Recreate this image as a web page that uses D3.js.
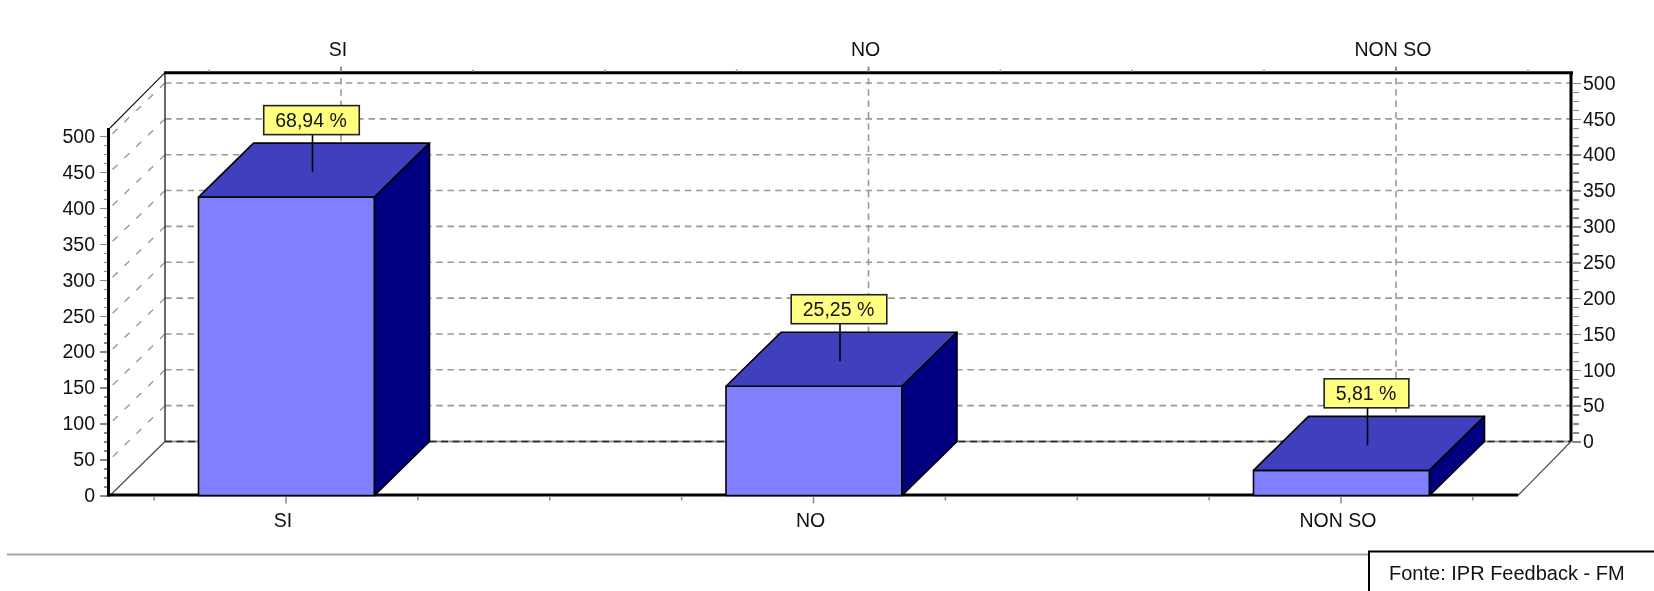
<!DOCTYPE html>
<html>
<head>
<meta charset="utf-8">
<style>
    html, body { margin: 0; padding: 0; background: #fff; overflow: hidden; }
    svg { filter: blur(0.45px); }
    text { font-family: "Liberation Sans", Arial, sans-serif; font-size: 19.5px; fill: #111; }
    .axis text { font-size: 19.5px; }
    .axis path, .axis line { shape-rendering: crispEdges; }
</style>
<script src="https://cdn.jsdelivr.net/npm/d3@7"></script>
</head>
<body>
<div id="dataviz"></div>
<script>
"use strict";

// Chart data
const categories = ["SI", "NO", "NON SO"];
const values = [415, 152, 35];
const percentLabels = ["68,94 %", "25,25 %", "5,81 %"];
const yTicks = [0, 50, 100, 150, 200, 250, 300, 350, 400, 450, 500];
const sourceLabel = "Fonte: IPR Feedback - FM";

function renderChart(){

    const WIDTH = 1654;
    const HEIGHT = 591;

    // Front plane and depth of the 3d box
    const FRONT_LEFT = 110;
    const FRONT_RIGHT = 1518;
    const FRONT_BOTTOM = 495.5;
    const FRONT_TOP = 136;
    const DEPTH_X = 55;
    const DEPTH_Y = 54;
    const BAR_WIDTH = 176;

    var svg = d3.select("#dataviz").append("svg")
        .attr("width", WIDTH)
        .attr("height", HEIGHT)
        .style("display", "block");

    // -----------------------------------------------------------------------
    // ------------------------------ Scales ---------------------------------
    // -----------------------------------------------------------------------
    var xScale = d3.scalePoint().domain(categories).range([286, 1341]);
    var yScale = d3.scaleLinear().domain([0, 500]).range([FRONT_BOTTOM, FRONT_TOP]);

    // same scale, pushed back to the rear wall
    var yBack = d3.scaleLinear().domain([0, 500]).range([441.5, 83]);

    var backLeft = FRONT_LEFT + DEPTH_X;
    var backRight = FRONT_RIGHT + DEPTH_X - 2;
    var backTop = 72.7;
    var backBottom = yBack(0);
    var frontTop = 128;

    // tick marks every quarter of a category step
    var quarter = xScale.step() / 4;
    var xMinor = d3.range(-1, 10).map(function(k){ return xScale(categories[0]) + k * quarter; });
    var yMinor = d3.range(0, 500.1, 12.5);

    // -----------------------------------------------------------------------
    // ------------------------------- Grid ----------------------------------
    // -----------------------------------------------------------------------
    var grid = svg.append("g")
        .attr("fill", "none")
        .attr("stroke", "#999")
        .attr("stroke-width", 1.6)
        .attr("stroke-dasharray", "6.5 4.8");

    grid.selectAll(".h-grid")
        .data(yTicks.filter(function(d){ return d > 0; }))
        .enter().append("line")
        .attr("class", "h-grid")
        .attr("x1", backLeft)
        .attr("x2", backRight)
        .attr("y1", function(d){ return yBack(d); })
        .attr("y2", function(d){ return yBack(d); });

    grid.selectAll(".side-grid")
        .data(yTicks.filter(function(d){ return d > 0; }))
        .enter().append("line")
        .attr("class", "side-grid")
        .attr("x1", backLeft)
        .attr("x2", FRONT_LEFT)
        .attr("y1", function(d){ return yBack(d); })
        .attr("y2", function(d){ return yScale(d); })
        .attr("stroke-width", 1.4)
        .attr("stroke-dasharray", "7 9.5");

    grid.selectAll(".v-grid")
        .data(categories)
        .enter().append("line")
        .attr("class", "v-grid")
        .attr("x1", function(d){ return xScale(d) + DEPTH_X; })
        .attr("x2", function(d){ return xScale(d) + DEPTH_X; })
        .attr("y1", backTop - 6)
        .attr("y2", backBottom);

    // Rear floor line, dark dashes on top of gray
    svg.append("line")
        .attr("x1", backLeft).attr("x2", backRight)
        .attr("y1", backBottom).attr("y2", backBottom)
        .attr("stroke", "#999").attr("stroke-width", 2);
    svg.append("line")
        .attr("x1", backLeft).attr("x2", backRight)
        .attr("y1", backBottom).attr("y2", backBottom)
        .attr("stroke", "#222").attr("stroke-width", 1.6)
        .attr("stroke-dasharray", "7 4.5");

    // -----------------------------------------------------------------------
    // ------------------------------- Frame ---------------------------------
    // -----------------------------------------------------------------------
    var frame = svg.append("g").attr("fill", "none").attr("stroke", "#111");

    frame.append("line")
        .attr("x1", backLeft).attr("x2", backLeft)
        .attr("y1", backTop).attr("y2", backBottom)
        .attr("stroke", "#444").attr("stroke-width", 1.6);
    frame.append("line")
        .attr("x1", FRONT_LEFT).attr("x2", backLeft)
        .attr("y1", frontTop).attr("y2", backTop)
        .attr("stroke-width", 1.1);
    frame.append("line")
        .attr("x1", FRONT_LEFT).attr("x2", backLeft)
        .attr("y1", FRONT_BOTTOM).attr("y2", backBottom)
        .attr("stroke", "#444").attr("stroke-width", 1.1);
    frame.append("line")
        .attr("x1", FRONT_RIGHT).attr("x2", backRight)
        .attr("y1", FRONT_BOTTOM).attr("y2", backBottom)
        .attr("stroke", "#444").attr("stroke-width", 1.1);
    frame.append("line")
        .attr("x1", backLeft - 1).attr("x2", backRight + 2)
        .attr("y1", backTop).attr("y2", backTop)
        .attr("stroke", "#000").attr("stroke-width", 3);
    frame.append("line")
        .attr("x1", FRONT_LEFT - 1.5).attr("x2", FRONT_LEFT - 1.5)
        .attr("y1", frontTop).attr("y2", FRONT_BOTTOM + 1)
        .attr("stroke", "#000").attr("stroke-width", 3);
    frame.append("line")
        .attr("x1", backRight).attr("x2", backRight)
        .attr("y1", backTop).attr("y2", backBottom)
        .attr("stroke", "#000").attr("stroke-width", 3);
    frame.append("line")
        .attr("x1", FRONT_LEFT - 3).attr("x2", FRONT_RIGHT)
        .attr("y1", FRONT_BOTTOM - 0.5).attr("y2", FRONT_BOTTOM - 0.5)
        .attr("stroke", "#000").attr("stroke-width", 3);

    // -----------------------------------------------------------------------
    // ------------------------------- Axes ----------------------------------
    // -----------------------------------------------------------------------
    var leftMinor = d3.axisLeft(yScale).tickValues(yMinor).tickSize(3).tickFormat("");
    var rightMinor = d3.axisRight(yBack).tickValues(yMinor).tickSize(7).tickFormat("");
    var leftAxis = d3.axisLeft(yScale).tickValues(yTicks).tickSize(7).tickPadding(5);
    var rightAxis = d3.axisRight(yBack).tickValues(yTicks).tickSize(9).tickPadding(2);

    function styleAxis(sel){
        sel.attr("class", "axis");
        sel.select(".domain").remove();
        sel.selectAll("line").attr("stroke", "#888").attr("stroke-width", 1.5);
        sel.selectAll("text").attr("fill", "#111").attr("font-family", null).attr("font-size", null);
        sel.attr("font-family", null).attr("font-size", null);
    }

    svg.append("g").attr("transform", "translate(" + (FRONT_LEFT - 3) + ",0)").call(leftMinor).call(styleAxis);
    svg.append("g").attr("transform", "translate(" + (FRONT_LEFT - 3) + ",0)").call(leftAxis).call(styleAxis);
    svg.append("g").attr("transform", "translate(" + (backRight + 1) + ",0)").call(rightMinor).call(styleAxis);
    svg.append("g").attr("transform", "translate(" + (backRight + 1) + ",0)").call(rightAxis).call(styleAxis);

    var bottomTicks = svg.append("g");
    var topTicks = svg.append("g");

    bottomTicks.selectAll("line")
        .data(xMinor)
        .enter().append("line")
        .attr("x1", function(d){ return d; })
        .attr("x2", function(d){ return d; })
        .attr("y1", FRONT_BOTTOM + 1)
        .attr("y2", function(d, i){ return FRONT_BOTTOM + (i % 4 === 1 ? 8 : 5); })
        .attr("stroke", "#888").attr("stroke-width", 1.5);

    topTicks.selectAll("line")
        .data(xMinor)
        .enter().append("line")
        .attr("x1", function(d){ return d + DEPTH_X; })
        .attr("x2", function(d){ return d + DEPTH_X; })
        .attr("y1", backTop - 1)
        .attr("y2", function(d, i){ return backTop - (i % 4 === 1 ? 6 : 3); })
        .attr("stroke", "#888").attr("stroke-width", 1.5);

    svg.selectAll(".x-label")
        .data(categories)
        .enter().append("text")
        .attr("class", "x-label")
        .attr("x", function(d){ return xScale(d) - 3; })
        .attr("y", 527)
        .attr("text-anchor", "middle")
        .text(function(d){ return d; });

    svg.selectAll(".x-top-label")
        .data(categories)
        .enter().append("text")
        .attr("class", "x-top-label")
        .attr("x", function(d){ return xScale(d) + DEPTH_X - 3; })
        .attr("y", 55.5)
        .attr("text-anchor", "middle")
        .text(function(d){ return d; });

    // -----------------------------------------------------------------------
    // ------------------------------- Bars ----------------------------------
    // -----------------------------------------------------------------------
    var bars = svg.selectAll(".bar")
        .data(categories.map(function(c, i){ return {cat: c, value: values[i], label: percentLabels[i]}; }))
        .enter().append("g")
        .attr("class", "bar")
        .attr("stroke", "#000")
        .attr("stroke-width", 1.6)
        .attr("stroke-linejoin", "round");

    var x0 = function(d){ return xScale(d.cat) - BAR_WIDTH / 2 + 0.5; };
    var x1 = function(d){ return xScale(d.cat) + BAR_WIDTH / 2 + 0.5; };

    bars.append("rect")
        .attr("x", x0)
        .attr("y", function(d){ return yScale(d.value); })
        .attr("width", BAR_WIDTH)
        .attr("height", function(d){ return FRONT_BOTTOM - yScale(d.value); })
        .attr("fill", "#8080ff");

    // top face
    bars.append("path")
        .attr("fill", "#4040bf")
        .attr("d", function(d){
            var p = d3.path();
            var y = yScale(d.value);
            p.moveTo(x0(d), y);
            p.lineTo(x0(d) + DEPTH_X, y - DEPTH_Y);
            p.lineTo(x1(d) + DEPTH_X, y - DEPTH_Y);
            p.lineTo(x1(d), y);
            p.closePath();
            return p.toString();
        });

    // side face
    bars.append("path")
        .attr("fill", "#000080")
        .attr("d", function(d){
            var p = d3.path();
            var y = yScale(d.value);
            p.moveTo(x1(d), y);
            p.lineTo(x1(d) + DEPTH_X, y - DEPTH_Y);
            p.lineTo(x1(d) + DEPTH_X, FRONT_BOTTOM - DEPTH_Y);
            p.lineTo(x1(d), FRONT_BOTTOM);
            p.closePath();
            return p.toString();
        });

    // -----------------------------------------------------------------------
    // ---------------------------- Value labels -----------------------------
    // -----------------------------------------------------------------------
    var callouts = svg.selectAll(".callout")
        .data(bars.data())
        .enter().append("g")
        .attr("class", "callout");

    // leader starts a little below the middle of the top face
    var topCx = function(d){ return xScale(d.cat) + DEPTH_X / 2 - 1; };
    var topCy = function(d){ return yScale(d.value) - DEPTH_Y / 2 + 2; };

    callouts.append("line")
        .attr("x1", topCx)
        .attr("x2", topCx)
        .attr("y1", topCy)
        .attr("y2", function(d){ return topCy(d) - 38; })
        .attr("stroke", "#000")
        .attr("stroke-width", 1.6);

    var boxes = callouts.append("rect")
        .attr("y", function(d){ return topCy(d) - 66.5; })
        .attr("height", 29)
        .attr("fill", "#ffff80")
        .attr("stroke", "#222")
        .attr("stroke-width", 1.6);

    var boxText = callouts.append("text")
        .attr("x", function(d){ return topCx(d) - 1.5; })
        .attr("y", function(d){ return topCy(d) - 45.5; })
        .attr("text-anchor", "middle")
        .text(function(d){ return d.label; });

    boxes.each(function(d, i){
        var w = boxText.nodes()[i].getComputedTextLength() + 24;
        d3.select(this)
            .attr("x", topCx(d) - 1 - w / 2)
            .attr("width", w);
    });

    // -----------------------------------------------------------------------
    // ------------------------------- Footer --------------------------------
    // -----------------------------------------------------------------------
    svg.append("line")
        .attr("x1", 7).attr("x2", 1369)
        .attr("y1", 554.5).attr("y2", 554.5)
        .attr("stroke", "#aca899").attr("stroke-width", 2);

    svg.append("rect")
        .attr("x", 1369).attr("y", 551.5)
        .attr("width", 300).attr("height", 60)
        .attr("fill", "#fff")
        .attr("stroke", "#000").attr("stroke-width", 2);

    svg.append("text")
        .attr("x", 1389).attr("y", 580)
        .style("font-size", "20px")
        .text(sourceLabel);
}

renderChart();
</script>
</body>
</html>
